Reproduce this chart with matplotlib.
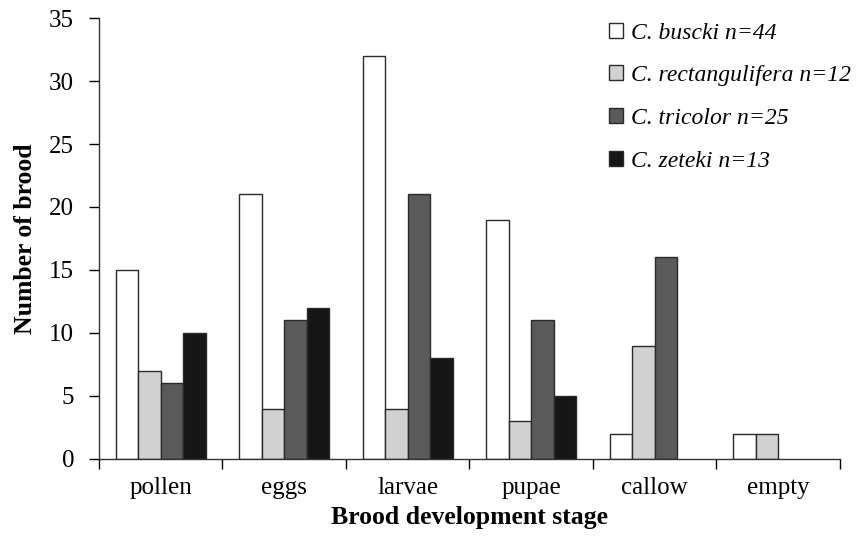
import matplotlib.pyplot as plt
import numpy as np

stages = ["pollen", "eggs", "larvae", "pupae", "callow", "empty"]
species = ["C. buscki n=44", "C. rectangulifera n=12", "C. tricolor n=25", "C. zeteki n=13"]
buscki = [15, 21, 32, 19, 2, 2]
rectangulifera = [7, 4, 4, 3, 9, 2]
tricolor = [6, 11, 21, 11, 16, 0]
zeteki = [10, 12, 8, 5, 0, 0]
colors = ["#ffffff", "#d0d1d0", "#5a5a5a", "#161616"]

plt.rcParams['font.family'] = ['Liberation Serif', 'DejaVu Serif']

fig = plt.figure(figsize=(8.64, 5.36), dpi=100)
ax = fig.add_axes([0.1146, 0.1437, 0.8574, 0.8227])

x = np.arange(len(stages))
w = 0.182
for i, (vals, c, lab) in enumerate(zip([buscki, rectangulifera, tricolor, zeteki], colors, species)):
    v = np.array(vals, dtype=float)
    mask = v > 0
    ax.bar(x[mask] + (i - 1.5) * w, v[mask], width=w, color=c, edgecolor="#2a2a2a",
           linewidth=1.0, label=lab)

ax.set_xlim(-0.5, len(stages) - 0.5)
ax.set_ylim(0, 35)
ax.set_yticks(range(0, 36, 5))
ax.tick_params(axis='y', labelsize=18, direction='out', length=7, width=1, pad=11)
ax.set_xticks(np.arange(-0.5, len(stages), 1))
ax.set_xticklabels([])
ax.tick_params(axis='x', which='major', direction='out', length=7, width=1)
ax.set_xticks(x, minor=True)
ax.set_xticklabels(stages, minor=True)
ax.tick_params(axis='x', which='minor', length=0, labelsize=18, pad=13)

for s in ["top", "right"]:
    ax.spines[s].set_visible(False)
for s in ["left", "bottom"]:
    ax.spines[s].set_color("#333333")
    ax.spines[s].set_linewidth(1)

ax.set_ylabel("Number of brood", fontsize=18.5, fontweight='bold', labelpad=9)
ax.set_xlabel("Brood development stage", fontsize=18.5, fontweight='bold', labelpad=5)

leg = ax.legend(loc='upper right', bbox_to_anchor=(1.044, 1.038), frameon=False,
                handlelength=0.6, handleheight=0.6, handletextpad=0.35,
                labelspacing=0.92, prop={'style': 'italic', 'size': 17})

fig.savefig("out.png", dpi=100)
